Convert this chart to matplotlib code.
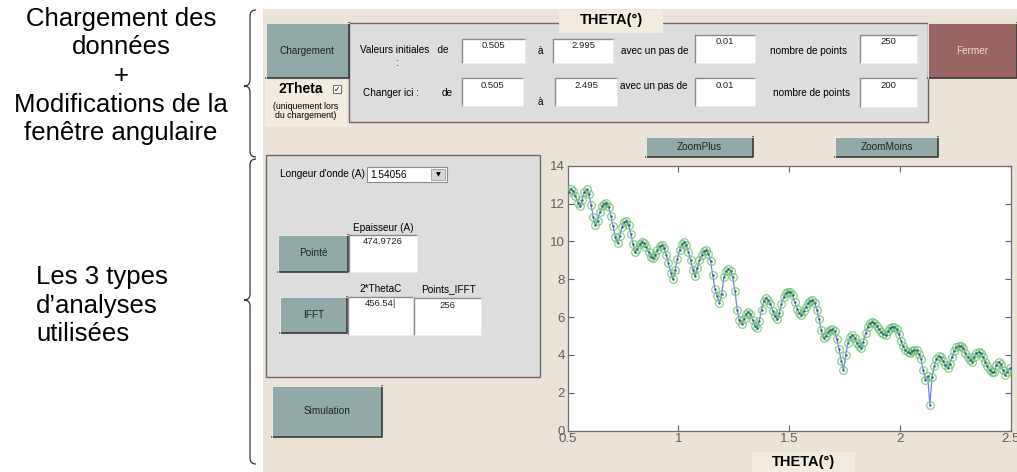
import numpy as np
import matplotlib
matplotlib.use("Agg")
import matplotlib.pyplot as plt
from matplotlib.patches import Rectangle, PathPatch
from matplotlib.path import Path

plt.rcParams["font.family"] = ["Liberation Sans", "DejaVu Sans"]

# measured curve, theta from 0.505 to 2.495 step 0.01
theta_start = 0.505
theta_step = 0.01
intensity = [
    12.6, 12.75, 12.65, 12.4, 12.05, 11.85, 12.2, 12.6, 12.75, 12.5,
    11.95, 11.3, 10.85, 11.1, 11.55, 11.85, 12.0, 12.05, 11.8, 11.35,
    10.8, 10.25, 9.9, 10.3, 10.75, 11.0, 11.1, 10.85, 10.4, 9.85,
    9.45, 9.6, 9.85, 9.95, 9.9, 9.7, 9.45, 9.2, 9.1, 9.3,
    9.55, 9.75, 9.8, 9.65, 9.3, 8.85, 8.35, 8.0, 8.5, 9.05,
    9.55, 9.85, 9.95, 9.8, 9.45, 9.0, 8.5, 8.15, 8.6, 9.0,
    9.3, 9.5, 9.55, 9.35, 8.95, 8.2, 7.5, 7.1, 6.75, 7.2,
    8.1, 8.45, 8.55, 8.45, 8.1, 7.4, 6.4, 5.85, 5.65, 5.9,
    6.15, 6.25, 6.15, 5.85, 5.55, 5.4, 5.8, 6.4, 6.85, 7.0,
    6.9, 6.7, 6.35, 6.05, 5.9, 6.2, 6.7, 7.05, 7.25, 7.35,
    7.35, 7.15, 6.8, 6.45, 6.2, 6.1, 6.3, 6.55, 6.75, 6.85,
    6.9, 6.75, 6.4, 5.9, 5.3, 4.9, 5.0, 5.2, 5.3, 5.35,
    5.25, 4.85, 4.3, 3.7, 3.2, 4.0, 4.65, 4.95, 5.05, 4.9,
    4.65, 4.45, 4.35, 4.7, 5.15, 5.5, 5.7, 5.75, 5.7, 5.55,
    5.35, 5.2, 5.1, 5.05, 5.25, 5.4, 5.5, 5.5, 5.35, 5.1,
    4.75, 4.45, 4.25, 4.15, 4.1, 4.2, 4.25, 4.25, 4.05, 3.8,
    3.2, 2.7, 2.9, 1.35, 2.85, 3.4, 3.8, 3.95, 3.9, 3.7,
    3.45, 3.3, 3.55, 3.9, 4.2, 4.4, 4.5, 4.5, 4.35, 4.1,
    3.9, 3.75, 3.65, 3.9, 4.1, 4.15, 4.1, 3.9, 3.65, 3.4,
    3.2, 3.1, 3.1, 3.45, 3.65, 3.5, 3.2, 2.95, 3.1, 3.3,
]
x_ticks = [0.5, 1, 1.5, 2, 2.5]
x_tick_labels = ["0.5", "1", "1.5", "2", "2.5"]
y_ticks = [0, 2, 4, 6, 8, 10, 12, 14]

W, H = 1017, 472
BEIGE = "#ebe2d8"
PANEL = "#dddddd"
BUTTON = "#92aaa7"
CREAM = "#f1ecdf"
GUI_FS = 7.2


def box(ax, x0, y0, x1, y1, fc, ec="none", lw=0.8, z=1):
    ax.add_patch(Rectangle((x0, y0), x1 - x0, y1 - y0, facecolor=fc,
                           edgecolor=ec, linewidth=lw, zorder=z))


def button(ax, x0, y0, x1, y1, label, fc=BUTTON, color="#222222"):
    box(ax, x0, y0, x1, y1, fc, z=2)
    ax.plot([x0, x1, x1], [y1, y1, y0], color="#3a3a3a", lw=1.2, zorder=3)
    ax.plot([x0, x0, x1], [y1, y0, y0], color="#f4f4f4", lw=0.6, zorder=3)
    ax.text((x0 + x1) / 2, (y0 + y1) / 2, label, ha="center", va="center",
            fontsize=GUI_FS, color=color, zorder=4)


def edit(ax, x0, y0, x1, y1, value, dy=7):
    box(ax, x0, y0, x1, y1, "white", z=2)
    ax.plot([x0, x0, x1], [y1, y0, y0], color="#8a8a8a", lw=1.0, zorder=3)
    ax.plot([x0, x1, x1], [y1, y1, y0], color="#f0f0f0", lw=0.6, zorder=3)
    ax.text((x0 + x1) / 2, y0 + dy, value, ha="center", va="center",
            fontsize=GUI_FS - 0.4, color="#222222", zorder=4)


def brace(ax, x, y0, y1, ytip, w=12):
    # left facing curly brace
    xm = x + w / 2
    verts = [
        (x + w, y0), (xm, y0), (xm, y0 + w / 2),
        (xm, ytip - w / 2),
        (xm, ytip), (x, ytip),
        (xm, ytip), (xm, ytip + w / 2),
        (xm, y1 - w / 2),
        (xm, y1), (x + w, y1),
    ]
    codes = [Path.MOVETO, Path.CURVE3, Path.CURVE3, Path.LINETO,
             Path.CURVE3, Path.CURVE3, Path.CURVE3, Path.CURVE3,
             Path.LINETO, Path.CURVE3, Path.CURVE3]
    ax.add_patch(PathPatch(Path(verts, codes), facecolor="none",
                           edgecolor="#333333", lw=0.9, zorder=5))


fig = plt.figure(figsize=(W / 100, H / 100), dpi=100)
fig.patch.set_facecolor("white")

bg = fig.add_axes([0, 0, 1, 1])
bg.set_xlim(0, W)
bg.set_ylim(H, 0)
bg.axis("off")

box(bg, 263, 9, W, H, BEIGE, z=0)

# left annotations
top_lines = ["Chargement des", "données", "+", "Modifications de la",
             "fenêtre angulaire"]
for i, line in enumerate(top_lines):
    bg.text(121, 19 + i * 28.5, line, ha="center", va="center", fontsize=18.5)
for i, line in enumerate(["Les 3 types", "d\u2019analyses", "utilisées"]):
    bg.text(36, 277 + i * 28.5, line, ha="left", va="center", fontsize=18.5)
brace(bg, 244, 10, 157, 86)
brace(bg, 244, 159, 464, 300)

# top panel
box(bg, 349, 23, 928, 122, PANEL, ec="#6a6a6a", lw=1.0)
box(bg, 559, 10, 663, 33, CREAM, z=2)
bg.text(611, 20, "THETA(°)", ha="center", va="center", fontsize=10.5,
        fontweight="bold", zorder=4)
button(bg, 266, 23, 349, 78, "Chargement")
button(bg, 928, 23, W, 78, "Fermer", fc="#9a6464", color="#f0d8d8")

box(bg, 265, 80, 347, 127, CREAM, z=1)
bg.text(301, 89, "2Theta", ha="center", va="center", fontsize=10,
        fontweight="bold")
box(bg, 333, 85, 341, 93, "white", ec="#555555", lw=0.6, z=2)
bg.text(337, 89, "✓", ha="center", va="center", fontsize=5.5, zorder=3,
        family="DejaVu Sans")
bg.text(306, 111, "(uniquement lors\ndu chargement)", ha="center",
        va="center", fontsize=6.3, linespacing=1.1)

bg.text(360, 50, "Valeurs initiales   de", ha="left", va="center", fontsize=GUI_FS)
bg.text(397, 63, ":", ha="center", va="center", fontsize=GUI_FS)
edit(bg, 462, 39, 525, 63, "0.505")
bg.text(540, 51, "à", ha="center", va="center", fontsize=GUI_FS)
edit(bg, 553, 39, 613, 63, "2.995")
bg.text(621, 51, "avec un pas de", ha="left", va="center", fontsize=GUI_FS)
edit(bg, 695, 35, 755, 63, "0.01")
bg.text(770, 51, "nombre de points", ha="left", va="center", fontsize=GUI_FS)
edit(bg, 860, 35, 917, 63, "250")

bg.text(363, 93, "Changer ici :", ha="left", va="center", fontsize=GUI_FS)
bg.text(442, 93, "de", ha="left", va="center", fontsize=GUI_FS)
edit(bg, 462, 78, 523, 106, "0.505")
bg.text(540, 102, "à", ha="center", va="center", fontsize=GUI_FS)
edit(bg, 555, 78, 617, 106, "2.495")
bg.text(620, 86, "avec un pas de", ha="left", va="center", fontsize=GUI_FS)
edit(bg, 695, 78, 755, 106, "0.01")
bg.text(773, 93, "nombre de points", ha="left", va="center", fontsize=GUI_FS)
edit(bg, 860, 78, 917, 107, "200")

button(bg, 646, 137, 753, 157, "ZoomPlus")
button(bg, 835, 137, 938, 157, "ZoomMoins")

# lower left panel
box(bg, 266, 155, 540, 377, PANEL, ec="#6a6a6a", lw=1.0)
bg.text(280, 174, "Longeur d'onde (A)", ha="left", va="center", fontsize=GUI_FS)
box(bg, 367, 167, 447, 182, "white", ec="#8a8a8a", lw=0.8, z=2)
bg.text(370, 175, "1.54056", ha="left", va="center", fontsize=GUI_FS, zorder=4)
box(bg, 431, 169, 445, 180, "#d8d8d8", ec="#8a8a8a", lw=0.5, z=3)
bg.text(438, 175, "▼", ha="center", va="center", fontsize=4.5, zorder=4,
        family="DejaVu Sans")

bg.text(383, 228, "Epaisseur (A)", ha="center", va="center", fontsize=GUI_FS)
button(bg, 278, 235, 348, 272, "Pointé")
edit(bg, 349, 235, 417, 272, "474.9726")
bg.text(381, 289, "2*ThetaC", ha="center", va="center", fontsize=GUI_FS)
bg.text(448, 289, "Points_IFFT", ha="center", va="center", fontsize=GUI_FS)
button(bg, 280, 297, 347, 333, "IFFT")
edit(bg, 348, 297, 413, 335, "456.54|")
edit(bg, 414, 298, 481, 335, "256")
button(bg, 272, 386, 382, 437, "Simulation")

box(bg, 752, 452, 855, H, CREAM, z=1)
bg.text(803, 462, "THETA(°)", ha="center", va="center", fontsize=10.5,
        fontweight="bold", zorder=4)

# the data plot
ax = fig.add_axes([567.7 / W, (H - 430.7) / H, 443 / W, 265 / H])
ax.set_facecolor("white")
theta = theta_start + theta_step * np.arange(len(intensity))
ax.plot(theta, intensity, color="#7b7bff", lw=0.9, zorder=2)
ax.plot(theta, intensity, "o", ms=5.5, mfc="none", mec="#6cc46c",
        mew=0.9, alpha=0.8, zorder=3)
ax.plot(theta, intensity, ".", ms=1.6, color="#2a5a6a", alpha=0.8, zorder=4)
ax.set_xlim(0.5, 2.5)
ax.set_ylim(0, 14)
ax.set_xticks(x_ticks)
ax.set_xticklabels(x_tick_labels)
ax.set_yticks(y_ticks)
ax.tick_params(direction="in", top=True, right=True, length=4,
               width=0.8, colors="#606060", labelsize=9.5, pad=2)
for s in ax.spines.values():
    s.set_color("#707070")
    s.set_linewidth(0.9)

fig.savefig("out.png", dpi=100, facecolor=fig.get_facecolor())
